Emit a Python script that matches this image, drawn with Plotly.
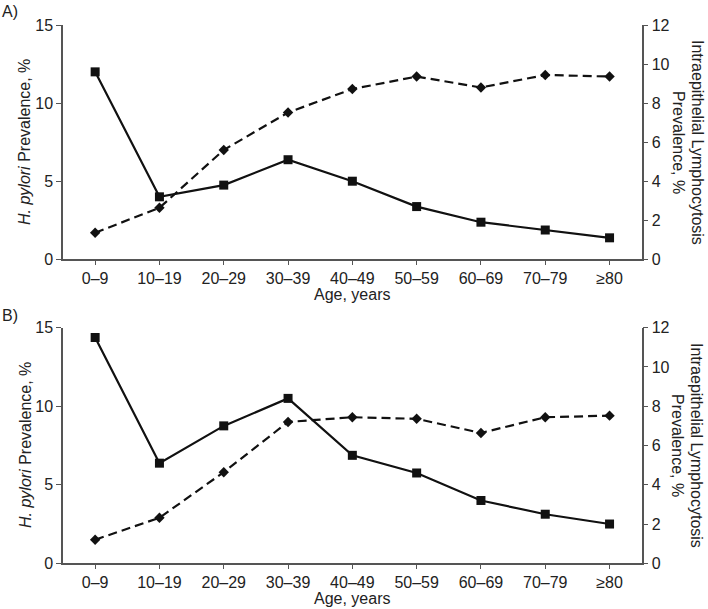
import plotly.graph_objects as go

age_groups = ["0–9", "10–19", "20–29", "30–39", "40–49", "50–59", "60–69", "70–79", "≥80"]

# Panel A
hp_a = [1.7, 3.3, 7.0, 9.4, 10.9, 11.7, 11.0, 11.8, 11.7]      # left axis (H. pylori, %)
iel_a = [9.6, 3.2, 3.8, 5.1, 4.0, 2.7, 1.9, 1.5, 1.1]         # right axis (IEL, %)
# Panel B
hp_b = [1.5, 2.9, 5.8, 9.0, 9.3, 9.2, 8.3, 9.3, 9.4]
iel_b = [11.5, 5.1, 7.0, 8.4, 5.5, 4.6, 3.2, 2.5, 2.0]

left_ticks = [0, 5, 10, 15]
right_ticks = [0, 2, 4, 6, 8, 10, 12]

W, H = 708, 609
FONT = "Liberation Sans, Arial, sans-serif"
AX = "#555555"
TXT = "#222222"

fig = go.Figure()

def add_panel(hp, iel, xa, ya_l, ya_r):
    fig.add_trace(go.Scatter(
        x=age_groups, y=hp, xaxis=xa, yaxis=ya_l, mode="lines+markers",
        line=dict(color="#111111", width=2.2, dash="9px,5px"),
        marker=dict(symbol="diamond", size=8, color="#111111"),
        showlegend=False, cliponaxis=False))
    fig.add_trace(go.Scatter(
        x=age_groups, y=iel, xaxis=xa, yaxis=ya_r, mode="lines+markers",
        line=dict(color="#111111", width=2.2),
        marker=dict(symbol="square", size=9, color="#111111"),
        showlegend=False, cliponaxis=False))

add_panel(hp_a, iel_a, "x", "y", "y2")
add_panel(hp_b, iel_b, "x2", "y3", "y4")

xdom = [63 / W, 641.7 / W]
top_dom = [1 - 259.3 / H, 1 - 25 / H]
bot_dom = [1 - 563.3 / H, 1 - 327.7 / H]

xcommon = dict(domain=xdom, range=[-0.5, 8.5], showline=True, linecolor=AX, linewidth=1.5,
               ticks="outside", ticklen=4, tickcolor=AX, tickwidth=1.2, showgrid=False,
               zeroline=False, tickfont=dict(family=FONT, size=16, color=TXT),
               categoryorder="array", categoryarray=age_groups, automargin=False)
ylcommon = dict(range=[0, 15], tickvals=left_ticks, showline=True, linecolor=AX, linewidth=1.5,
                ticks="outside", ticklen=5, tickcolor=AX, tickwidth=1.2, showgrid=False,
                zeroline=False, tickfont=dict(family=FONT, size=16, color=TXT), automargin=False)
yrcommon = dict(range=[0, 12], tickvals=right_ticks, showline=True, linecolor=AX, linewidth=1.5,
                ticks="outside", ticklen=5, tickcolor=AX, tickwidth=1.2, showgrid=False,
                zeroline=False, side="right", tickfont=dict(family=FONT, size=16, color=TXT),
                automargin=False)

fig.update_layout(
    width=W, height=H,
    margin=dict(l=0, r=0, t=0, b=0),
    plot_bgcolor="white", paper_bgcolor="white",
    xaxis=dict(**xcommon, anchor="y"),
    xaxis2=dict(**xcommon, anchor="y3"),
    yaxis=dict(**ylcommon, domain=top_dom, anchor="x"),
    yaxis2=dict(**yrcommon, domain=top_dom, anchor="x", overlaying="y"),
    yaxis3=dict(**ylcommon, domain=bot_dom, anchor="x2"),
    yaxis4=dict(**yrcommon, domain=bot_dom, anchor="x2", overlaying="y3"),
)

def ann(text, x, y, angle=0, xanchor="center", yanchor="middle", size=16):
    fig.add_annotation(text=text, x=x / W, y=1 - y / H, xref="paper", yref="paper",
                       showarrow=False, textangle=angle, xanchor=xanchor, yanchor=yanchor,
                       font=dict(family=FONT, size=size, color=TXT))

ann("A)", 0, 12, xanchor="left")
ann("B)", 0, 315, xanchor="left")
xc = (63 + 641.7) / 2
ann("Age, years", xc, 294)
ann("Age, years", xc, 598)
left_title = "<i>H. pylori</i> Prevalence, %"
ann(left_title, 25, 142, angle=-90)
ann(left_title, 25, 445, angle=-90)
for yc in (142, 445):
    ann("Intraepithelial Lymphocytosis", 697, yc, angle=90)
    ann("Prevalence, %", 678, yc, angle=90)

fig.write_html("out.html", config={"displayModeBar": False},
               post_script="document.body.style.margin='0';document.body.style.overflow='hidden';")
